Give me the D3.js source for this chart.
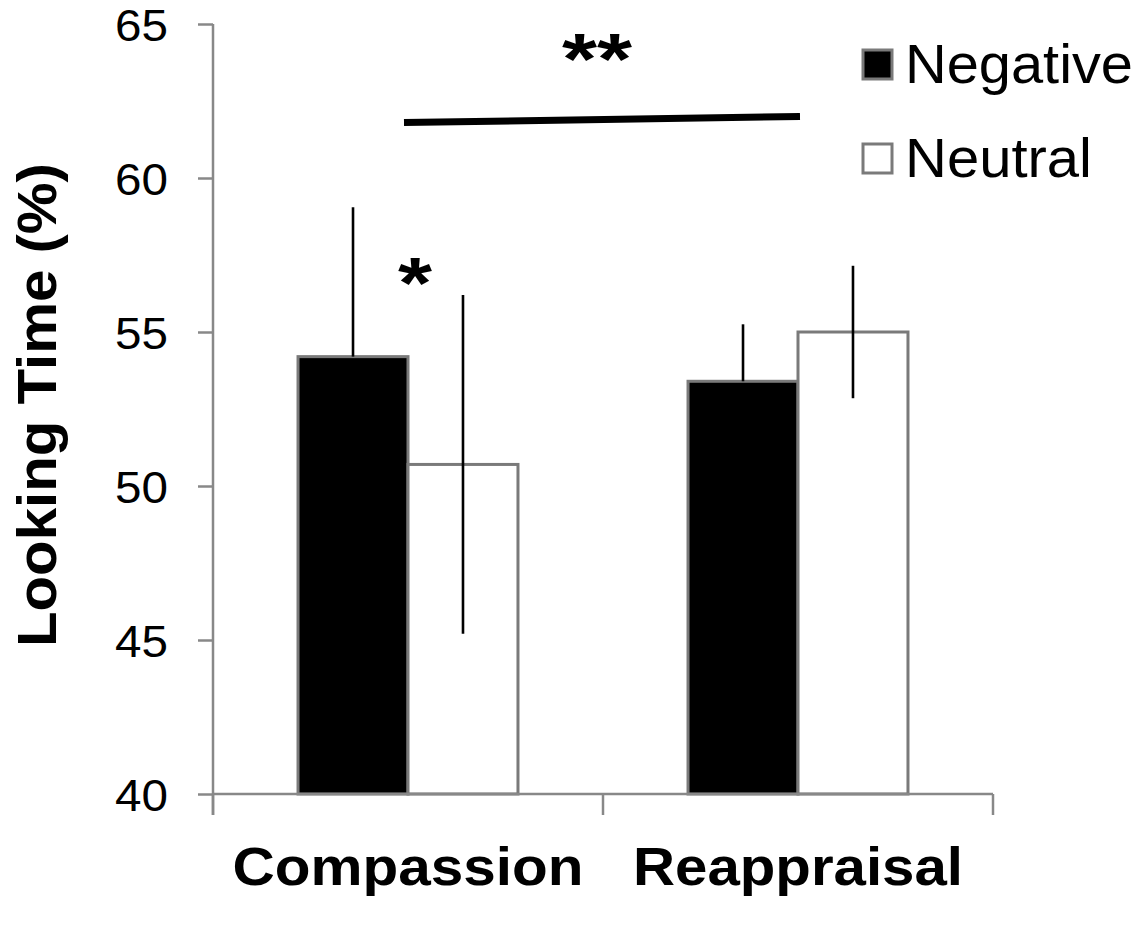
<!DOCTYPE html>
<html>
<head>
<meta charset="utf-8">
<script src="https://cdn.jsdelivr.net/npm/d3@7/dist/d3.min.js"></script>
<style>
  html, body { margin: 0; padding: 0; background: #fff; }
  svg { display: block; }
  text { font-family: "Liberation Sans", Arial, Helvetica, sans-serif; fill: #000; }
</style>
</head>
<body>
<svg id="chart" width="1142" height="926"></svg>
<script>
// ---- data ----
const categories = ["Compassion", "Reappraisal"];
const seriesNames = ["Negative", "Neutral"];
const negativeValues = [54.2, 53.4];
const neutralValues = [50.7, 55.0];
const negativeErrors = [4.85, 1.85];
const neutralErrors = [5.5, 2.15];
const yTicks = [40, 45, 50, 55, 60, 65];
const sigLineValues = [61.8, 62.0];   // long significance line (left end, right end)
const sigLabels = ["**", "*"];

// ---- layout ----
const svg = d3.select("#chart");
const axisColor = "#888888";
const barStroke = "#7a7a7a";

const y = d3.scaleLinear().domain([40, 65]).range([794, 24]);
const x0 = d3.scaleBand().domain(categories).range([213, 993])
  .paddingInner(0.436).paddingOuter(0.218);
const x1 = d3.scaleBand().domain(seriesNames).range([0, x0.bandwidth()]).padding(0);
const fills = { Negative: "#000000", Neutral: "#ffffff" };

const rows = categories.map((c, i) => ({
  category: c,
  items: [
    { series: "Negative", value: negativeValues[i], err: negativeErrors[i] },
    { series: "Neutral", value: neutralValues[i], err: neutralErrors[i] }
  ]
}));

// ---- y axis ----
const yAxis = d3.axisLeft(y).tickValues(yTicks).tickSize(15).tickSizeOuter(0).tickPadding(30);
const gy = svg.append("g").attr("transform", "translate(213,0)").call(yAxis);
gy.select(".domain").remove();
gy.selectAll(".tick line").attr("stroke", axisColor).attr("stroke-width", 2.5);
gy.selectAll(".tick text")
  .style("font-size", "45px")
  .attr("dy", "0.37em")
  .attr("textLength", 53)
  .attr("lengthAdjust", "spacingAndGlyphs")
  .attr("fill", "#000");
svg.append("line")
  .attr("x1", 213).attr("x2", 213)
  .attr("y1", y(65)).attr("y2", y(40) + 21)
  .attr("stroke", axisColor).attr("stroke-width", 2.5);

// ---- bars ----
const groups = svg.append("g").selectAll("g").data(rows).join("g")
  .attr("transform", d => `translate(${x0(d.category)},0)`);

groups.selectAll("rect").data(d => d.items).join("rect")
  .attr("x", d => x1(d.series))
  .attr("y", d => y(d.value))
  .attr("width", x1.bandwidth())
  .attr("height", d => y(40) - y(d.value))
  .attr("fill", d => fills[d.series])
  .attr("stroke", barStroke)
  .attr("stroke-width", 3);

// error bars (no caps)
groups.selectAll("line.err").data(d => d.items).join("line")
  .attr("class", "err")
  .attr("x1", d => x1(d.series) + x1.bandwidth() / 2)
  .attr("x2", d => x1(d.series) + x1.bandwidth() / 2)
  .attr("y1", d => y(d.value + d.err))
  .attr("y2", d => d.series === "Negative" ? y(d.value) : y(d.value - d.err))
  .attr("stroke", "#000")
  .attr("stroke-width", 2.6);

// ---- x axis ----
svg.append("line")
  .attr("x1", 213).attr("x2", 993)
  .attr("y1", y(40)).attr("y2", y(40))
  .attr("stroke", axisColor).attr("stroke-width", 2.5);
const boundaries = [0, 1, 2].map(i => 213 + i * x0.step());
svg.append("g").selectAll("line").data(boundaries).join("line")
  .attr("x1", d => d).attr("x2", d => d)
  .attr("y1", y(40)).attr("y2", y(40) + 21)
  .attr("stroke", axisColor).attr("stroke-width", 2.5);

const xLabelWidths = { Compassion: 351, Reappraisal: 330 };
svg.append("g").selectAll("text").data(categories).join("text")
  .attr("x", d => x0(d) + x0.bandwidth() / 2)
  .attr("y", 885)
  .attr("text-anchor", "middle")
  .style("font-size", "54px")
  .style("font-weight", "bold")
  .attr("textLength", d => xLabelWidths[d])
  .attr("lengthAdjust", "spacingAndGlyphs")
  .text(d => d);

// ---- y title ----
svg.append("text")
  .attr("transform", "translate(56,405) rotate(-90)")
  .attr("text-anchor", "middle")
  .style("font-size", "56px")
  .style("font-weight", "bold")
  .attr("textLength", 484)
  .attr("lengthAdjust", "spacingAndGlyphs")
  .text("Looking Time (%)");

// ---- significance annotations ----
const sigX1 = x0("Compassion") + x1("Neutral") - 4;
const sigX2 = x0("Reappraisal") + x1("Neutral") + 2;
svg.append("line")
  .attr("x1", sigX1).attr("x2", sigX2)
  .attr("y1", y(sigLineValues[0])).attr("y2", y(sigLineValues[1]))
  .attr("stroke", "#000").attr("stroke-width", 7);

svg.append("text")
  .attr("x", (sigX1 + sigX2) / 2 - 5)
  .attr("y", 84)
  .attr("text-anchor", "middle")
  .style("font-size", "72px")
  .style("font-weight", "bold")
  .attr("textLength", 70)
  .attr("lengthAdjust", "spacingAndGlyphs")
  .text(sigLabels[0]);

svg.append("text")
  .attr("x", x0("Compassion") + x1("Neutral") + 7)
  .attr("y", 308)
  .attr("text-anchor", "middle")
  .style("font-size", "72px")
  .style("font-weight", "bold")
  .attr("textLength", 34)
  .attr("lengthAdjust", "spacingAndGlyphs")
  .text(sigLabels[1]);

// ---- legend ----
const legendWidths = { Negative: 228, Neutral: 187 };
const legend = svg.append("g").selectAll("g").data(seriesNames).join("g")
  .attr("transform", (d, i) => `translate(863,${50 + i * 94})`);
legend.append("rect")
  .attr("width", 29).attr("height", 29)
  .attr("fill", d => fills[d])
  .attr("stroke", barStroke).attr("stroke-width", 3);
legend.append("text")
  .attr("x", 42).attr("y", 33)
  .style("font-size", "55px")
  .attr("textLength", d => legendWidths[d])
  .attr("lengthAdjust", "spacingAndGlyphs")
  .text(d => d);
</script>
</body>
</html>
